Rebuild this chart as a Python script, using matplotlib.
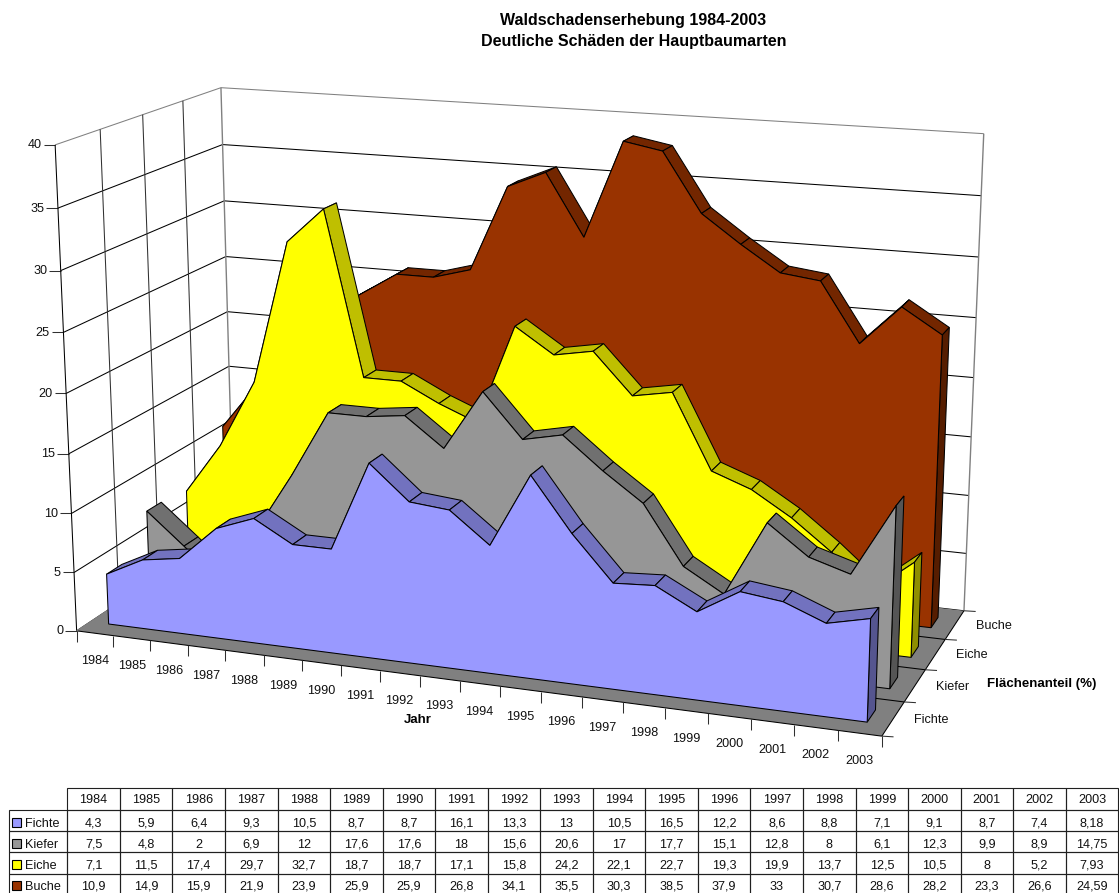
import numpy as np
import matplotlib
matplotlib.use("Agg")
import matplotlib.pyplot as plt
from matplotlib.patches import Polygon, Rectangle

plt.rcParams["font.family"] = ["Liberation Sans", "DejaVu Sans"]

years = list(range(1984, 2004))
species = ["Fichte", "Kiefer", "Eiche", "Buche"]
fichte = [4.3, 5.9, 6.4, 9.3, 10.5, 8.7, 8.7, 16.1, 13.3, 13, 10.5, 16.5, 12.2, 8.6, 8.8, 7.1, 9.1, 8.7, 7.4, 8.18]
kiefer = [7.5, 4.8, 2, 6.9, 12, 17.6, 17.6, 18, 15.6, 20.6, 17, 17.7, 15.1, 12.8, 8, 6.1, 12.3, 9.9, 8.9, 14.75]
eiche = [7.1, 11.5, 17.4, 29.7, 32.7, 18.7, 18.7, 17.1, 15.8, 24.2, 22.1, 22.7, 19.3, 19.9, 13.7, 12.5, 10.5, 8, 5.2, 7.93]
buche = [10.9, 14.9, 15.9, 21.9, 23.9, 25.9, 25.9, 26.8, 34.1, 35.5, 30.3, 38.5, 37.9, 33, 30.7, 28.6, 28.2, 23.3, 26.6, 24.59]
series = [fichte, kiefer, eiche, buche]

face_colors = ["#9999FF", "#969696", "#FFFF00", "#993300"]
top_colors = ["#7272BF", "#707070", "#BFBF00", "#732600"]
cap_colors = ["#55558F", "#555555", "#8F8F00", "#561D00"]
FLOOR = "#808080"
FRAME = "#808080"
INK = "#000000"
LW = 0.75
FONT = 9.1
TITLE_FONT = 11.5
AXIS_FONT = 9.5

N = len(years)
SLAB_FRONT, SLAB_BACK = 0.08, 0.17   # slab extent inside one depth cell

# Camera: (category position, depth 0..1, value) -> figure pixels, solved from the box frame.
frame = [
    (0, 0, 0, 76.7, 631), (0, 0, 25, 63.3, 332.3), (0, 0, 40, 55.7, 144.7),
    (0, 1, 40, 220.7, 87.7), (0, 1, 20, 227.7, 312), (0, 1, 0, 234, 526),
    (20, 1, 0, 964, 611), (20, 1, 20, 973.3, 377.3), (20, 1, 40, 984, 133.7),
    (20, 0, 0, 882.3, 736), (1, 0, 0, 112.7, 636), (19, 0, 0, 837.7, 730),
    (0, .25, 40, 100.3, 130), (0, .5, 40, 142.7, 114.3), (0, .75, 40, 182.3, 100.7),
    (20, .25, 0, 904, 701.3), (20, .5, 0, 925, 670.3), (20, .75, 0, 945.3, 640),
]
rows, rhs = [], []
for cx, cy, cz, px, py in frame:
    w = [cx / 20, cy, cz / 40, 1]
    rows.append(w + [0, 0, 0, 0] + [-px * c for c in w[:3]])
    rhs.append(px)
    rows.append([0, 0, 0, 0] + w + [-py * c for c in w[:3]])
    rhs.append(py)
sol = np.linalg.lstsq(np.array(rows), np.array(rhs), rcond=None)[0]
CAM = np.append(sol, 1.0).reshape(3, 4)


def project(x, y, z):
    v = CAM @ np.array([x / 20, y, z / 40, 1.0])
    return v[0] / v[2], v[1] / v[2]


fig = plt.figure(figsize=(11.19, 8.93), dpi=100)
ax = fig.add_axes([0, 0, 1, 1])
ax.set_xlim(0, 1119)
ax.set_ylim(893, 0)
ax.axis("off")


def seg(a, b, color=INK, lw=LW, z=2, **kw):
    ax.plot(*zip(a, b), color=color, lw=lw, zorder=z, solid_capstyle="butt", **kw)


def poly(pts, fc, z, ec=INK, lw=LW):
    ax.add_patch(Polygon(pts, closed=True, facecolor=fc, edgecolor=ec, lw=lw,
                         joinstyle="miter", zorder=z))


# Walls: horizontal gridlines, then depth gridlines on the side wall
for v in range(0, 45, 5):
    a, b, c = project(0, 0, v), project(0, 1, v), project(20, 1, v)
    col = FRAME if v == 40 else INK
    seg(a, b, col)
    seg(b, c, col)
    tick = (a[0] - 11.5, a[1])
    seg(tick, a, "#303030")
    ax.text(a[0] - 13.5, a[1] + 0.5, str(v), ha="right", va="center", fontsize=FONT, color="#111111")
for d in (0.25, 0.5, 0.75):
    seg(project(0, d, 0), project(0, d, 40), "#303030")
seg(project(0, 0, 0), project(0, 0, 40), INK)
seg(project(0, 1, 0), project(0, 1, 40), FRAME, lw=1.0)
seg(project(20, 1, 0), project(20, 1, 40), FRAME, lw=1.0)

# Floor with its depth gridlines
poly([project(0, 0, 0), project(20, 0, 0), project(20, 1, 0), project(0, 1, 0)], FLOOR, 3, ec="none")
for d in (0, 0.25, 0.5, 0.75):
    seg(project(0, d, 0), project(20, d, 0), INK, z=3.1)
seg(project(20, 0, 0), project(20, 1, 0), INK, z=3.1)
seg(project(0, 0, 0), project(0, 1, 0), FLOOR, z=3.1)

# Axis ticks and category labels along the front and right floor edges
for i in range(N + 1):
    p = project(i, 0, 0)
    seg(p, (p[0], p[1] + 11), "#303030", z=3.1)
for i, yr in enumerate(years):
    p = project(i + 0.5, 0, 0)
    ax.text(p[0], p[1] + 28, str(yr), ha="center", va="center", fontsize=FONT, color="#111111")
for d in (0, 0.25, 0.5, 0.75, 1):
    p = project(20, d, 0)
    seg(p, (p[0] + 11.7, p[1] + 0.7), "#303030", z=3.1)
for k, name in enumerate(species):
    p = project(20, (k + 0.5) / 4, 0)
    ax.text(p[0] + 21, p[1] + 1, name, ha="left", va="center", fontsize=FONT, color="#111111")

# Slabs are painted back to front so nearer species cover farther ones
for k in range(3, -1, -1):
    vals = series[k]
    d0 = k / 4 + SLAB_FRONT
    d1 = k / 4 + SLAB_BACK
    base = 4 + (3 - k)
    for i in range(N - 1):
        poly([project(i + .5, d0, vals[i]), project(i + 1.5, d0, vals[i + 1]),
              project(i + 1.5, d1, vals[i + 1]), project(i + .5, d1, vals[i])],
             top_colors[k], base)
    xe = N - 0.5
    poly([project(xe, d0, 0), project(xe, d1, 0), project(xe, d1, vals[-1]), project(xe, d0, vals[-1])],
         cap_colors[k], base + 0.1)
    outline = [project(.5, d0, 0)] + [project(i + .5, d0, v) for i, v in enumerate(vals)] + [project(xe, d0, 0)]
    poly(outline, face_colors[k], base + 0.2)

# Titles
ax.text(633, 20, "Waldschadenserhebung 1984-2003", ha="center", va="center", fontsize=TITLE_FONT, fontweight="bold")
ax.text(633.4, 41.5, "Deutliche Schäden der Hauptbaumarten", ha="center", va="center", fontsize=TITLE_FONT, fontweight="bold")
ax.text(417.7, 719.7, "Jahr", ha="center", va="center", fontsize=AXIS_FONT, fontweight="bold")
ax.text(1041.7, 684.3, "Flächenanteil (%)", ha="center", va="center", fontsize=AXIS_FONT, fontweight="bold")


# Data table under the chart: the grid comes from a table, the text sits on common baselines
def fmt(v):
    return f"{v:g}".replace(".", ",")


cell_text = [[""] + [str(y) for y in years]]
for name, vals in zip(species, series):
    cell_text.append([name] + [fmt(v) for v in vals])

left, right, top, bottom = 9.0, 1118.3, 788.3, 895.0
first_w = 58.3
col_w = (right - left - first_w) / N
tbl = ax.table(cellText=[[""] * (N + 1) for _ in cell_text],
               colWidths=[first_w / 1119] + [col_w / 1119] * N,
               bbox=[left / 1119, 1 - bottom / 893, (right - left) / 1119, (bottom - top) / 893])
for (r, c), cell in tbl.get_celld().items():
    cell.set_linewidth(0.8)
    cell.set_edgecolor("#202020")
    cell.set_facecolor("none")
    if r == 0 and c == 0:
        cell.visible_edges = ""

baselines = [803.3, 826.8, 847.8, 868.8, 889.8]
for r, row in enumerate(cell_text):
    for c, txt in enumerate(row):
        if c == 0:
            ax.text(24.5, baselines[r], txt, ha="left", va="baseline", fontsize=FONT, color="#111111", zorder=20)
        else:
            xc = left + first_w + col_w * (c - 0.5)
            ax.text(xc, baselines[r], txt, ha="center", va="baseline", fontsize=FONT, color="#111111", zorder=20)

for k in range(4):
    yc = baselines[k + 1] - 4
    ax.add_patch(Rectangle((11.7, yc - 4.5), 9, 9, facecolor=face_colors[k], edgecolor=INK, lw=0.8, zorder=20))

fig.savefig("out.png", dpi=100)
